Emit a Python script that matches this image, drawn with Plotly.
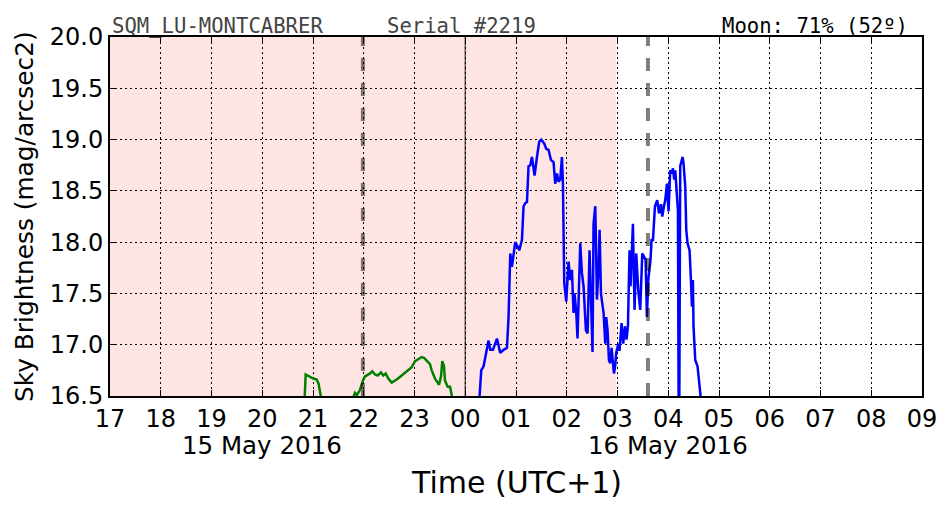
import pandas as pd
import plotly.graph_objects as go

# ---- data ----
# green series: hours since 2016-05-15 00:00
green_hours = [20.82, 20.856, 21.006, 21.073, 21.11, 21.171, 21.197, 21.48, 21.768, 21.828,
               21.867, 21.926, 21.991, 22.025, 22.123, 22.168, 22.222, 22.275, 22.340, 22.385,
               22.433, 22.484, 22.551, 22.649, 22.748, 22.846, 22.945, 23.010, 23.089, 23.142,
               23.193, 23.240, 23.305, 23.339, 23.404, 23.457, 23.483, 23.522, 23.548, 23.581,
               23.601, 23.654, 23.700, 23.733, 23.778]
green_mag = [16.30, 16.71, 16.67, 16.66, 16.62, 16.45, 16.30, 16.20, 16.45, 16.53,
             16.51, 16.56, 16.66, 16.69, 16.72, 16.74, 16.71, 16.70, 16.73, 16.70,
             16.72, 16.67, 16.63, 16.66, 16.70, 16.74, 16.78, 16.84, 16.86, 16.88,
             16.87, 16.84, 16.81, 16.75, 16.67, 16.63, 16.61, 16.69, 16.84, 16.79,
             16.65, 16.59, 16.59, 16.51, 16.30]

# blue series: hours since 2016-05-16 00:00
blue_hours = [0.256, 0.315, 0.361, 0.408, 0.459, 0.493, 0.546, 0.625, 0.690, 0.755,
              0.822, 0.853, 0.887, 0.920, 0.952, 0.985, 1.019, 1.064, 1.117, 1.149,
              1.182, 1.216, 1.247, 1.281, 1.314, 1.366, 1.413, 1.458, 1.498, 1.557,
              1.596, 1.641, 1.689, 1.740, 1.773, 1.807, 1.838, 1.872, 1.905, 1.925,
              1.951, 1.990, 2.035, 2.069, 2.102, 2.134, 2.153, 2.187, 2.212, 2.240,
              2.266, 2.299, 2.331, 2.378, 2.410, 2.449, 2.477, 2.508, 2.528, 2.562,
              2.595, 2.627, 2.647, 2.674, 2.700, 2.726, 2.759, 2.778, 2.804, 2.832,
              2.857, 2.883, 2.911, 2.930, 2.956, 2.975, 3.015, 3.040, 3.080, 3.113,
              3.147, 3.178, 3.206, 3.237, 3.257, 3.304, 3.336, 3.369, 3.409, 3.448,
              3.488, 3.521, 3.553, 3.580, 3.606, 3.651, 3.671, 3.699, 3.738, 3.783,
              3.817, 3.857, 3.882, 3.915, 3.941, 3.974, 4.006, 4.039, 4.073, 4.092,
              4.118, 4.138, 4.171, 4.191, 4.211, 4.236, 4.282, 4.301, 4.335, 4.355,
              4.380, 4.420, 4.447, 4.467, 4.486, 4.498, 4.532, 4.577, 4.631, 4.650]
blue_mag = [16.30, 16.75, 16.79, 16.93, 17.04, 16.95, 16.95, 17.06, 16.92, 16.95,
            16.97, 17.27, 17.89, 17.76, 17.86, 18.00, 17.97, 17.92, 18.02, 18.35,
            18.38, 18.39, 18.74, 18.75, 18.83, 18.65, 18.83, 18.98, 19.00, 18.96,
            18.91, 18.90, 18.80, 18.78, 18.57, 18.67, 18.59, 18.61, 18.83, 18.57,
            17.60, 17.42, 17.81, 17.63, 17.73, 17.31, 17.50, 17.32, 17.06, 17.47,
            17.99, 17.70, 17.57, 17.14, 17.11, 17.92, 17.47, 16.93, 18.18, 18.35,
            17.44, 17.75, 18.12, 17.50, 17.40, 17.31, 17.01, 17.27, 17.14, 16.85,
            16.82, 16.97, 16.82, 16.72, 16.80, 16.92, 17.01, 16.94, 17.21, 17.01,
            17.18, 17.05, 17.18, 17.92, 17.57, 18.18, 17.34, 17.89, 17.53, 17.34,
            17.89, 17.86, 17.83, 17.27, 17.63, 17.83, 18.02, 18.02, 18.35, 18.41,
            18.28, 18.37, 18.25, 18.35, 18.41, 18.57, 18.30, 18.70, 18.67, 18.72,
            18.61, 18.70, 18.44, 18.31, 15.50, 18.74, 18.83, 18.77, 18.54, 18.12,
            17.99, 17.92, 17.63, 17.37, 17.63, 17.18, 16.85, 16.79, 16.53, 16.40]

x_range = ["2016-05-15 17:00", "2016-05-16 09:00"]
y_range = [16.5, 20.0]
night_span = ["2016-05-15 17:00", "2016-05-16 02:58"]
dashed_marks = ["2016-05-15 21:59", "2016-05-16 03:36"]
midnight_mark = "2016-05-16 00:00"
date_labels = ["15 May 2016", "16 May 2016"]
date_label_pos = ["2016-05-15 20:00", "2016-05-16 04:00"]
title_left = "SQM_LU-MONTCABRER"
title_mid = "Serial #2219"
title_right = "Moon: 71% (52º)"
x_title = "Time (UTC+1)"
y_title = "Sky Brightness (mag/arcsec2)"

# ---- build ----
green_t = pd.Timestamp("2016-05-15") + pd.to_timedelta(green_hours, unit="h")
blue_t = pd.Timestamp("2016-05-16") + pd.to_timedelta(blue_hours, unit="h")

FONT = "DejaVu Sans"
MONO = "DejaVu Sans Mono"

fig = go.Figure()
fig.add_trace(go.Scatter(x=green_t, y=green_mag, mode="lines",
                         line=dict(color="#008000", width=2.5), showlegend=False))
fig.add_trace(go.Scatter(x=blue_t, y=blue_mag, mode="lines",
                         line=dict(color="#0000FF", width=2.5), showlegend=False))

shapes = [dict(type="rect", xref="x", yref="paper", x0=night_span[0], x1=night_span[1],
               y0=0, y1=1, fillcolor="#FFE4E4", line=dict(width=0), layer="below")]
for d in dashed_marks:
    shapes.append(dict(type="line", xref="x", yref="paper", x0=d, x1=d, y0=0, y1=1,
                       line=dict(color="rgba(0,0,0,0.5)", width=4, dash="13px,12px"),
                       layer="above"))
shapes.append(dict(type="line", xref="x", yref="paper", x0=midnight_mark, x1=midnight_mark,
                   y0=0, y1=1, line=dict(color="rgba(0,0,0,0.6)", width=1.5), layer="above"))

annotations = [
    dict(text=title_left, xref="paper", yref="paper", x=0.0, y=1, xanchor="left",
         yanchor="bottom", yshift=-3, showarrow=False,
         font=dict(family=MONO, size=20.6, color="#444444")),
    dict(text=title_mid, xref="paper", yref="paper", x=0.3387, y=1, xanchor="left",
         yanchor="bottom", yshift=-3, showarrow=False,
         font=dict(family=MONO, size=20.6, color="#444444")),
    dict(text=title_right, xref="paper", yref="paper", x=0.985, y=1, xanchor="right",
         yanchor="bottom", yshift=-3, showarrow=False,
         font=dict(family=MONO, size=20.6, color="black")),
    dict(text=x_title, xref="paper", yref="paper", x=0.5, y=-0.2396, xanchor="center",
         yanchor="middle", showarrow=False, font=dict(family=FONT, size=30, color="black")),
    dict(text=y_title, xref="paper", yref="paper", x=-0.1047, y=0.5014, xanchor="center",
         yanchor="middle", textangle=-90, showarrow=False,
         font=dict(family=FONT, size=24.8, color="black")),
]
for lab, pos in zip(date_labels, date_label_pos):
    annotations.append(dict(text=lab, xref="x", yref="paper", x=pos, y=-0.1365,
                            xanchor="center", yanchor="middle", showarrow=False,
                            font=dict(family=FONT, size=24.5, color="black")))

fig.update_layout(
    width=952, height=512, autosize=False,
    margin=dict(l=110, r=30, t=37, b=116),
    paper_bgcolor="white", plot_bgcolor="white",
    shapes=shapes, annotations=annotations,
    font=dict(family=FONT, color="black"),
)
fig.update_xaxes(type="date", range=x_range, tick0="2016-05-15 17:00", dtick=3600000,
                 tickformat="%H", ticks="inside", ticklen=6, tickwidth=1, tickcolor="black",
                 showline=True, linecolor="black", linewidth=2, mirror="ticks",
                 showgrid=True, gridcolor="black", gridwidth=1, griddash="2px,3px",
                 zeroline=False, tickfont=dict(family=FONT, size=24, color="black"))
fig.update_yaxes(range=y_range, tick0=16.5, dtick=0.5, tickformat=".1f",
                 ticks="inside", ticklen=6, tickwidth=1, tickcolor="black",
                 showline=True, linecolor="black", linewidth=2, mirror="ticks",
                 showgrid=True, gridcolor="black", gridwidth=1, griddash="2px,3px",
                 zeroline=False, tickfont=dict(family=FONT, size=24, color="black"))

fig.write_html("out.html")
